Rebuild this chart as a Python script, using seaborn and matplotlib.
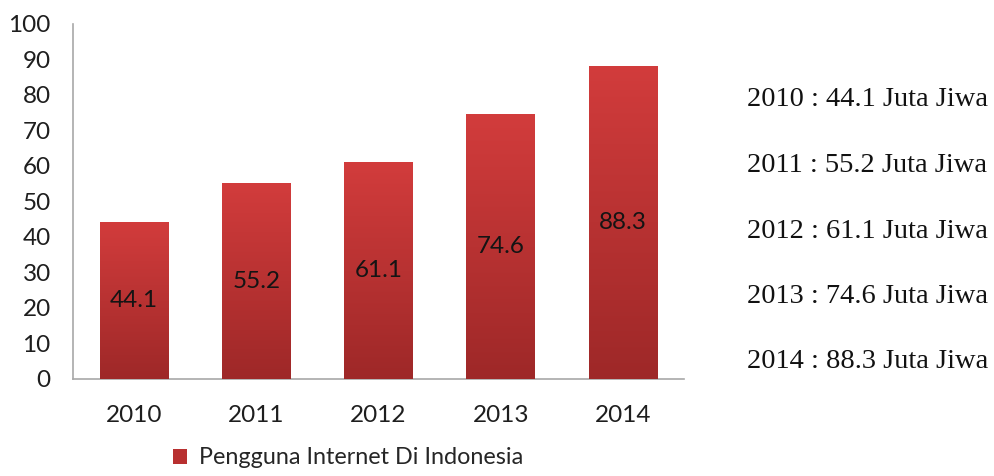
import numpy as np
import pandas as pd
import matplotlib
matplotlib.use("Agg")
import matplotlib.pyplot as plt
from matplotlib.colors import LinearSegmentedColormap
from matplotlib.patches import Patch
import seaborn as sns

years = ["2010", "2011", "2012", "2013", "2014"]
users = [44.1, 55.2, 61.1, 74.6, 88.3]
series_name = "Pengguna Internet Di Indonesia"
unit = "Juta Jiwa"
y_ticks = [0, 10, 20, 30, 40, 50, 60, 70, 80, 90, 100]

sns.set_theme(style="white")
plt.rcParams["font.family"] = ["Lato", "DejaVu Sans"]

df = pd.DataFrame({"year": years, "users": users})

fig = plt.figure(figsize=(9.94, 4.76), dpi=100)
ax = fig.add_axes([0.0734, 0.2038, 0.6147, 0.7458])

sns.barplot(data=df, x="year", y="users", color="#b83030", width=0.56,
            saturation=1, ax=ax, zorder=2)

# vertical red gradient inside each bar
cmap = LinearSegmentedColormap.from_list("bar_grad", ["#9e2828", "#d23c3c"])
grad = np.linspace(0, 1, 256).reshape(-1, 1)
for bar, val in zip(ax.patches, users):
    x0 = bar.get_x()
    w = bar.get_width()
    h = bar.get_height()
    img = ax.imshow(grad, cmap=cmap, aspect="auto", origin="lower",
                    extent=[x0, x0 + w, 0, h], zorder=3)
    img.set_clip_path(bar)
    ax.text(x0 + w / 2, h / 2, f"{val}", ha="center", va="center",
            fontsize=17.5, color="#141414", zorder=4)

ax.set_xlim(-0.5, 4.5)
ax.set_ylim(0, 100)
ax.set_yticks(y_ticks)
ax.set_xlabel("")
ax.set_ylabel("")
ax.tick_params(axis="y", length=0, pad=16, labelsize=17.5, labelcolor="#1e1e1e")
ax.tick_params(axis="x", length=0, pad=19, labelsize=17.5, labelcolor="#1e1e1e")
for side in ["top", "right"]:
    ax.spines[side].set_visible(False)
for side in ["left", "bottom"]:
    ax.spines[side].set_color("#a8a8a8")
    ax.spines[side].set_linewidth(1.2)

handle = Patch(facecolor="#b83030", edgecolor="none")
fig.legend([handle], [series_name], loc="center left",
           bbox_to_anchor=(0.165, 0.038), frameon=False, fontsize=16.8,
           handlelength=0.6, handleheight=0.6, handletextpad=0.5,
           borderaxespad=0)

# value list on the right
for i, (yr, val) in enumerate(zip(years, users)):
    fig.text(0.7515, 1 - (100 + 65.5 * i) / 476, f"{yr} : {val} {unit}",
             ha="left", va="center", fontsize=20.5, color="#111111",
             family=["Liberation Serif", "DejaVu Serif"])

fig.savefig("out.png", dpi=100, facecolor="white")
